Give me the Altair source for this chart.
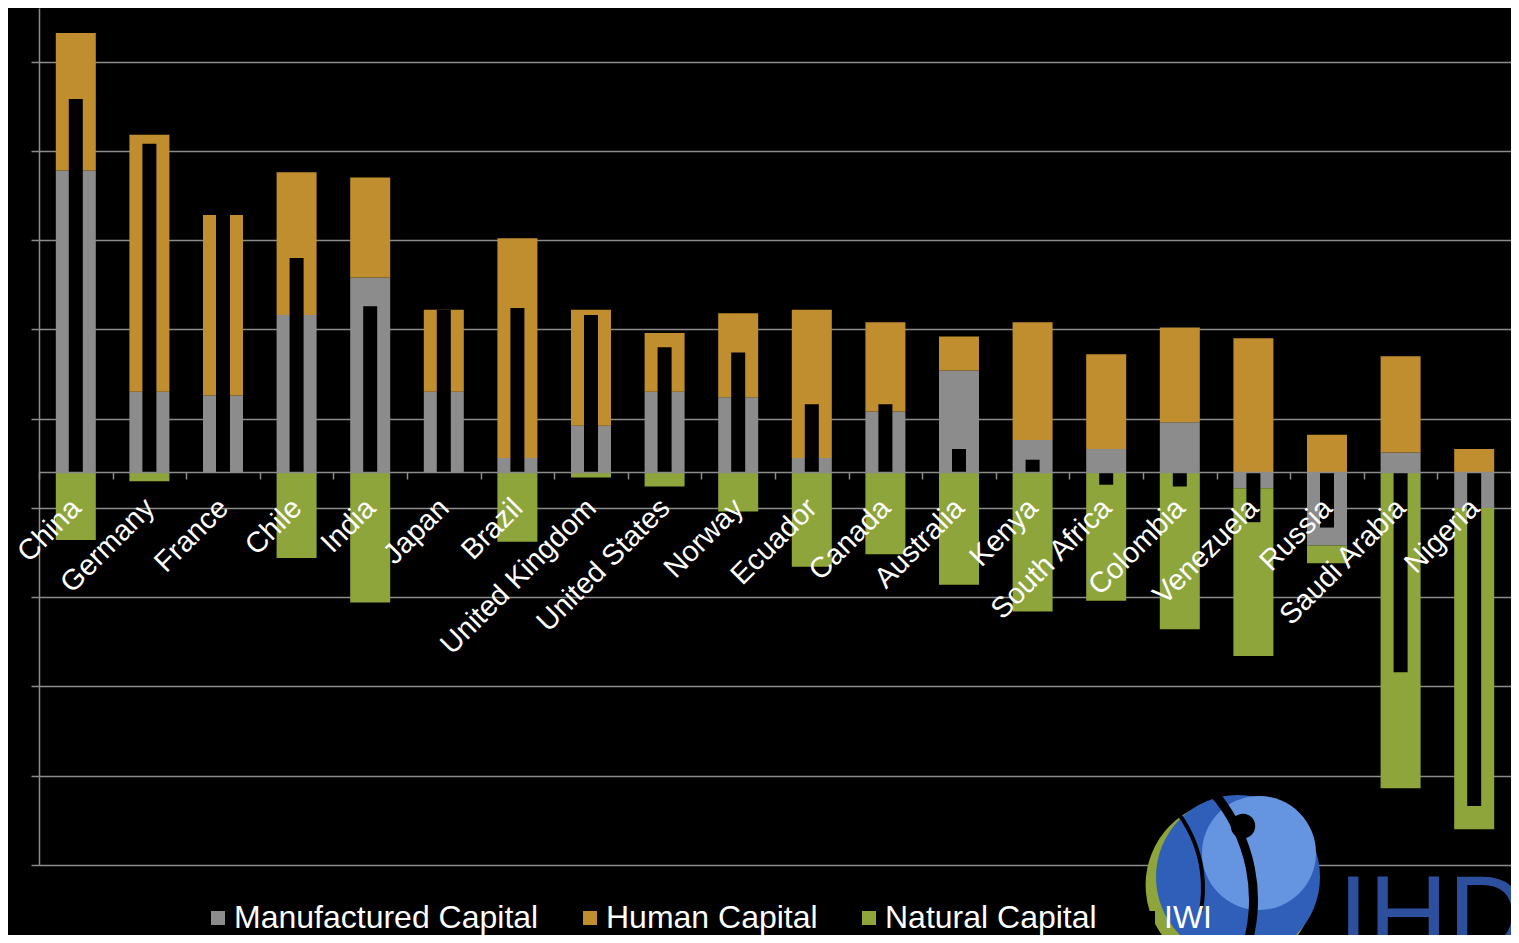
import altair as alt
import pandas as pd

countries = ["China", "Germany", "France", "Chile", "India", "Japan", "Brazil",
             "United Kingdom", "United States", "Norway", "Ecuador", "Canada",
             "Australia", "Kenya", "South Africa", "Colombia", "Venezuela",
             "Russia", "Saudi Arabia", "Nigeria"]
manufactured = [1.69, 0.45, 0.43, 0.88, 1.09, 0.45, 0.08, 0.26, 0.45, 0.42,
                0.08, 0.34, 0.57, 0.18, 0.13, 0.28, -0.09, -0.41, 0.11, -0.20]
human = [0.77, 1.44, 1.01, 0.80, 0.56, 0.46, 1.23, 0.65, 0.33, 0.47,
         0.83, 0.50, 0.19, 0.66, 0.53, 0.53, 0.75, 0.21, 0.54, 0.13]
natural = [-0.38, -0.05, 0.00, -0.48, -0.73, 0.00, -0.39, -0.03, -0.08, -0.22,
           -0.53, -0.46, -0.63, -0.78, -0.72, -0.88, -0.94, -0.10, -1.77, -1.80]
iwi = [2.09, 1.84, 1.44, 1.20, 0.93, 0.91, 0.92, 0.88, 0.70, 0.67,
       0.38, 0.38, 0.13, 0.07, -0.07, -0.08, -0.28, -0.31, -1.12, -1.87]

series_names = ["Manufactured Capital", "Human Capital", "Natural Capital", "IWI"]
series_colors = ["#8c8c8c", "#c08e2e", "#8ea53c", "#000000"]
grid_values = [-2.2, -1.7, -1.2, -0.7, -0.2, 0.3, 0.8, 1.3, 1.8, 2.3]
y_domain = [-2.2, 2.6]
logo_text = ["IHD"]

rows = []
for i, c in enumerate(countries):
    for k, (name, vals) in enumerate(zip(series_names[:3], [manufactured, human, natural])):
        rows.append({"country": c, "component": name, "value": vals[i], "ord": k})
comp_df = pd.DataFrame(rows)
iwi_df = pd.DataFrame({"country": countries, "component": "IWI", "value": iwi})

FONT = "Liberation Sans"
GRID = "#8c8c8c"

color = alt.Color(
    "component:N",
    scale=alt.Scale(domain=series_names, range=series_colors),
    legend=alt.Legend(
        title=None, orient="none", legendX=163, legendY=894, zindex=2,
        direction="horizontal", symbolType="square", symbolSize=196,
        symbolStrokeWidth=0, labelFont=FONT, labelFontSize=32,
        labelColor="white", labelOffset=0, columnPadding=35, labelLimit=0,
    ),
)

x_enc = alt.X(
    "country:N", sort=countries, title=None,
    scale=alt.Scale(paddingInner=0, paddingOuter=0),
    axis=alt.Axis(
        offset=-393, zindex=1, labelAngle=-45, labelAlign="right",
        labelBaseline="middle", labelColor="white", labelFont=FONT,
        labelFontSize=29, labelPadding=24, labelLimit=0, domainColor=GRID,
        domainWidth=1.5, tickColor=GRID, tickWidth=1.5, tickSize=7,
        tickBand="extent", grid=False, labelOverlap=False,
    ),
)

y_scale = alt.Scale(domain=y_domain, nice=False, zero=False)

bars = alt.Chart(comp_df).mark_bar(size=40).encode(
    x=x_enc,
    y=alt.Y(
        "value:Q", stack="zero", scale=y_scale, title=None,
        axis=alt.Axis(
            values=grid_values, labels=False, grid=True, gridColor=GRID,
            gridWidth=1.5, domainColor=GRID, domainWidth=1.5,
            tickColor=GRID, tickWidth=1.5, tickSize=8,
        ),
    ),
    color=color,
    order=alt.Order("ord:Q"),
)

iwi_bars = alt.Chart(iwi_df).mark_bar(size=14).encode(
    x=alt.X("country:N", sort=countries),
    y=alt.Y("value:Q", stack=None, scale=y_scale),
    color=color,
)

# decorative logo (globe + lettering) in the lower right corner
logo_base = alt.Chart(pd.DataFrame({"t": logo_text}))
globe_rim = logo_base.mark_point(shape="circle", filled=True, size=28500,
                                 color="#8ea53c", opacity=1).encode(
    x=alt.value(1191), y=alt.value(877))
globe = logo_base.mark_point(shape="circle", filled=True, size=26900,
                             color="#2f5fb8", opacity=1).encode(
    x=alt.value(1199), y=alt.value(869))
globe_light = logo_base.mark_point(shape="circle", filled=True, size=13000,
                                   color="#6595e0", opacity=1).encode(
    x=alt.value(1220), y=alt.value(845))
globe_arc = logo_base.mark_arc(radius=168, radius2=159, theta=0.85, theta2=1.9,
                               color="black").encode(
    x=alt.value(1051), y=alt.value(892))
globe_arc2 = logo_base.mark_arc(radius=128, radius2=124, theta=0.55, theta2=1.75,
                                color="black").encode(
    x=alt.value(1038), y=alt.value(880))
globe_dot = logo_base.mark_point(shape="circle", filled=True, size=600,
                                 color="black", opacity=1).encode(
    x=alt.value(1204), y=alt.value(818))
logo_word = logo_base.mark_text(align="left", baseline="alphabetic",
                                font=FONT, fontSize=110, color="#2c4f9e").encode(
    x=alt.value(1299), y=alt.value(944), text="t:N")

chart = alt.layer(
    bars, iwi_bars, globe_rim, globe, globe_light, globe_arc, globe_arc2,
    globe_dot, logo_word
).properties(
    width=1472, height=857,
    autosize=alt.AutoSizeParams(type="none"),
    padding={"left": 31, "top": 0, "right": 0, "bottom": 70},
    background="black",
).configure_view(strokeWidth=0)

chart.save("out.html", embed_options={"renderer": "svg", "actions": False})
